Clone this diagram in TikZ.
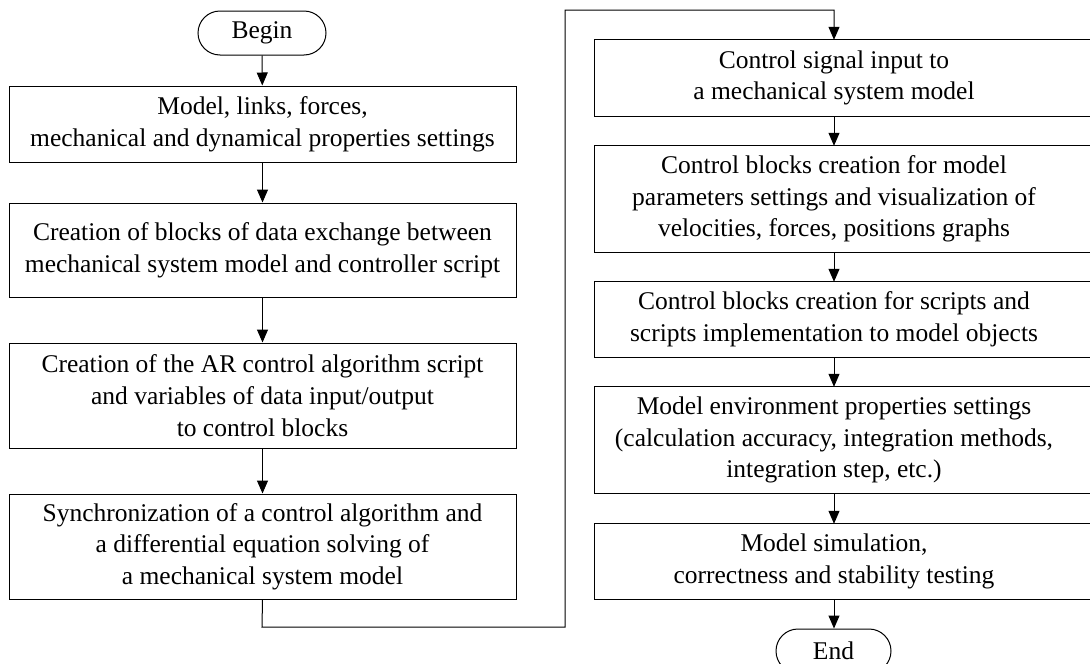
\documentclass[tikz,border=0pt]{standalone}
\usepackage{fontspec}
\setmainfont{Liberation Serif}
\usetikzlibrary{arrows.meta}
\begin{document}
\begin{tikzpicture}[x=1pt,y=-1pt,
  every node/.style={font=\fontsize{25.5}{31.7}\selectfont, align=center, inner sep=0pt},
  lbox/.style={draw, line width=1pt, minimum width=507pt},
  rbox/.style={minimum width=478pt},
  term/.style={draw, line width=1pt, rounded corners=22pt, minimum height=44pt},
  flow/.style={line width=1pt, -{Triangle[length=13pt,width=11pt]}},
  line/.style={line width=1pt}]
\useasboundingbox (0,0) rectangle (1090,664);
% left column
\node[term, minimum width=128pt] (begin) at (262,33) {Begin};
\node[lbox, minimum height=76pt] (b1) at (262.5,124) {Model, links, forces,\\mechanical and dynamical properties settings};
\node[lbox, minimum height=94pt] (b2) at (262.5,250) {Creation of blocks of data exchange between\\mechanical system model and controller script};
\node[lbox, minimum height=105pt] (b3) at (262.5,395.5) {Creation of the AR control algorithm script\\and variables of data input/output\\to control blocks};
\node[lbox, minimum height=105pt] (b4) at (262.5,546.5) {Synchronization of a control algorithm and\\a differential equation solving of\\a mechanical system model};
% right column
\node[rbox, minimum height=76pt] (b5) at (834,78) {Control signal input to\\a mechanical system model};
\node[rbox, minimum height=106pt] (b6) at (834,199) {Control blocks creation for model\\parameters settings and visualization of\\velocities, forces, positions graphs};
\node[rbox, minimum height=75pt] (b7) at (834,319.5) {Control blocks creation for scripts and\\scripts implementation to model objects};
\node[rbox, minimum height=106pt] (b8) at (834,440) {Model environment properties settings\\(calculation accuracy, integration methods,\\integration step, etc.)};
\node[rbox, minimum height=75pt] (b9) at (834,561.5) {Model simulation,\\correctness and stability testing};
\node[term, minimum width=115pt] (end) at (833.5,651) {End};
\coordinate (edge) at (1092,0);
\foreach \n in {b5,b6,b7,b8,b9}{
  \draw[line] (\n.north west -| edge) -- (\n.north west) -- (\n.south west) -- (\n.south west -| edge);
}
% connectors
\draw[flow] (begin) -- (b1);
\draw[flow] (b1) -- (b2);
\draw[flow] (b2) -- (b3);
\draw[flow] (b3) -- (b4);
\coordinate (c1) at (262,627);
\coordinate (c2) at (565,627);
\coordinate (c3) at (565,10);
\coordinate (c4) at (834,10);
\draw[flow] (b4.south) -- (c1) -- (c2) -- (c3) -- (c4) -- (b5.north);
\draw[flow] (b5) -- (b6);
\draw[flow] (b6) -- (b7);
\draw[flow] (b7) -- (b8);
\draw[flow] (b8) -- (b9);
\draw[flow] (b9.south) -- (end.north -| b9.south);
\end{tikzpicture}
\end{document}
